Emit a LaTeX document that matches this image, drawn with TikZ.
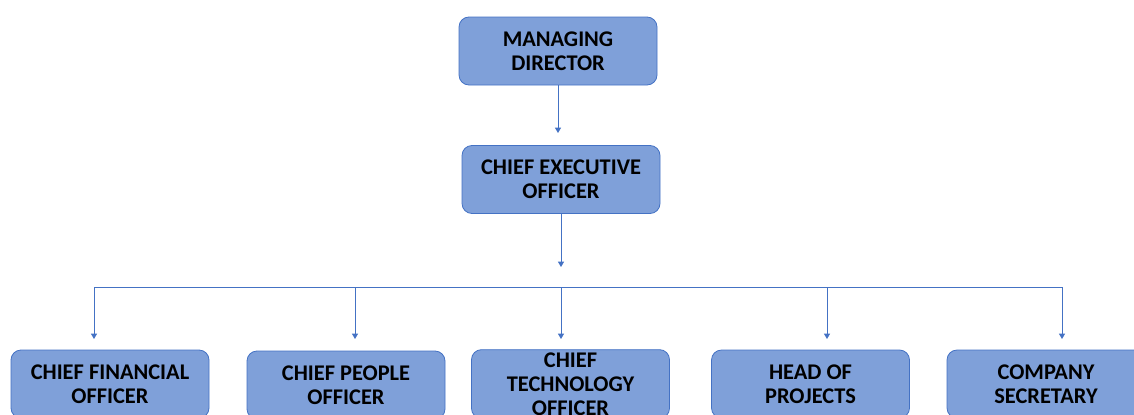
\documentclass[tikz,border=0pt]{standalone}
\usepackage{fontspec}
\setmainfont{Carlito}
\usetikzlibrary{arrows.meta}
\definecolor{boxfill}{HTML}{7FA0D9}
\definecolor{boxline}{HTML}{4472C4}
\begin{document}
\begin{tikzpicture}[x=0.75pt,y=-0.75pt,
      post/.style={draw=boxline,fill=boxfill,rounded corners=7.5pt,line width=0.6pt,
        minimum width=148.5pt,minimum height=51pt,align=center,inner sep=2pt,
        font=\fontsize{16.8}{18.2}\selectfont\bfseries},
      link/.style={draw=boxline,line width=0.6pt},
      tip/.style={link,-{Triangle[width=4.5pt,length=4pt]}}]
      \useasboundingbox (0,0) rectangle (1134,414);
      \node[post] (md) at (558,51) {MANAGING\\DIRECTOR};
      \node[post] (ceo) at (561,179.5) {CHIEF EXECUTIVE\\OFFICER};
      \node[post] (cfo) at (110,384) {CHIEF FINANCIAL\\OFFICER};
      \node[post] (cpo) at (346,385) {CHIEF PEOPLE\\OFFICER};
      \node[post] (cto) at (570.5,384) {CHIEF\\TECHNOLOGY\\OFFICER};
      \node[post] (hop) at (810.5,384) {HEAD OF\\PROJECTS};
      \node[post] (cs) at (1046,384) {COMPANY\\SECRETARY};
      \coordinate (mdend) at (558,133);
      \coordinate (ceoend) at (561,267);
      \draw[tip] (md.south -| mdend) -- (mdend);
      \draw[tip] (ceo.south -| ceoend) -- (ceoend);
      % bus line
      \coordinate (b1) at (94,287);
      \coordinate (b2) at (355,287);
      \coordinate (b3) at (561,287);
      \coordinate (b4) at (827,287);
      \coordinate (b5) at (1062,287);
      \draw[link] (b1) -- (b5);
      \foreach \b in {1,...,5}
        \draw[tip] (b\b) -- ++(0,52);
\end{tikzpicture}
\end{document}
